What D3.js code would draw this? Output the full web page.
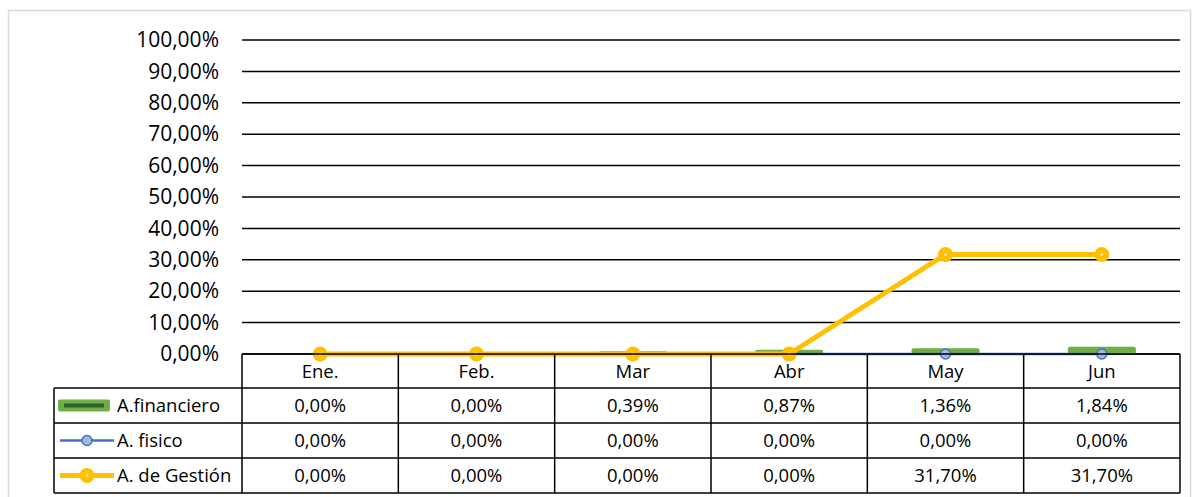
<!DOCTYPE html>
<html>
<head>
<meta charset="utf-8">
<script src="https://cdn.jsdelivr.net/npm/d3@7"></script>
<style>
  body { margin: 0; background: #fff; }
  svg text { font-family: "Open Sans", Lato, sans-serif; fill: #000; }
</style>
</head>
<body>
<svg id="chart" width="1193" height="497"></svg>
<script>
// Données du graphique
const months = ["Ene.", "Feb.", "Mar", "Abr", "May", "Jun"];
const financiero = [0.00, 0.00, 0.39, 0.87, 1.36, 1.84];
const fisico = [0.00, 0.00, 0.00, 0.00, 0.00, 0.00];
const gestion = [0.00, 0.00, 0.00, 0.00, 31.70, 31.70];
const yTicks = [0, 10, 20, 30, 40, 50, 60, 70, 80, 90, 100];

const seriesNames = ["A.financiero", "A. fisico", "A. de Gestión"];
const seriesValues = [financiero, fisico, gestion];

const green = "#70AD47", blue = "#4472C4", yellow = "#FFC000";

const svg = d3.select("#chart");

// Cadre extérieur
svg.append("rect")
    .attr("x", 8.5).attr("y", 10.5)
    .attr("width", 1182).attr("height", 495)
    .attr("fill", "none").attr("stroke", "#d9d9d9").attr("stroke-width", 1.5);

// Échelles
const x = d3.scaleBand().domain(months).range([242, 1180]);
const y = d3.scaleLinear().domain([0, 100]).range([354, 40]);

const fmt = v => v.toFixed(2).replace(".", ",") + "%";

// Lignes de grille
svg.append("g")
    .selectAll("line")
    .data(yTicks)
    .enter()
    .append("line")
    .attr("x1", 242).attr("x2", 1180)
    .attr("y1", d => y(d)).attr("y2", d => y(d))
    .attr("stroke", "#000").attr("stroke-width", 1.5);

// Axe Y
const yAxis = svg.append("g")
    .attr("transform", "translate(219,0)")
    .call(d3.axisLeft(y).tickValues(yTicks).tickSize(0).tickPadding(0).tickFormat(fmt));
yAxis.select(".domain").remove();
yAxis.selectAll("text")
    .style("font-size", "21px")
    .style("font-family", "'Open Sans', Lato, sans-serif");

// Barres A.financiero
svg.append("g")
    .selectAll("rect")
    .data(financiero)
    .enter()
    .append("rect")
    .attr("x", (d, i) => x(months[i]) + x.bandwidth() / 2 - 34)
    .attr("width", 68)
    .attr("y", d => y(d) - 1.5)
    .attr("height", d => y(0) - y(d) + 1.5)
    .attr("rx", 2)
    .attr("fill", d => d > 0 ? green : "none");

// Lignes
const line = d3.line()
    .x((d, i) => x(months[i]) + x.bandwidth() / 2)
    .y(d => y(d));

svg.append("path")
    .datum(fisico)
    .attr("d", line)
    .attr("fill", "none").attr("stroke", blue).attr("stroke-width", 2.5);

svg.append("g")
    .selectAll("circle")
    .data(fisico)
    .enter()
    .append("circle")
    .attr("cx", (d, i) => x(months[i]) + x.bandwidth() / 2)
    .attr("cy", d => y(d))
    .attr("r", 5)
    .attr("fill", "#A5B6E0").attr("stroke", blue).attr("stroke-width", 1.5);

svg.append("path")
    .datum(gestion)
    .attr("d", line)
    .attr("fill", "none").attr("stroke", yellow).attr("stroke-width", 5)
    .attr("stroke-linejoin", "round");

svg.append("g")
    .selectAll("circle")
    .data(gestion)
    .enter()
    .append("circle")
    .attr("cx", (d, i) => x(months[i]) + x.bandwidth() / 2)
    .attr("cy", d => y(d))
    .attr("r", 7.5)
    .attr("fill", yellow);

svg.append("g")
    .selectAll("circle")
    .data(gestion)
    .enter()
    .append("circle")
    .attr("cx", (d, i) => x(months[i]) + x.bandwidth() / 2)
    .attr("cy", d => y(d))
    .attr("r", 1.5)
    .attr("fill", "#FFE9A8");

// Tableau de données
const rowTop = [354, 388, 423, 458, 493];
const table = svg.append("g");

// Lignes horizontales
rowTop.forEach((ry, i) => {
    table.append("line")
        .attr("x1", i === 0 ? 242 : 54).attr("x2", 1180)
        .attr("y1", ry).attr("y2", ry)
        .attr("stroke", "#000").attr("stroke-width", 1.5);
});

// Lignes verticales
const colEdges = months.map(m => x(m)).concat([1180]);
colEdges.forEach(cx => {
    table.append("line")
        .attr("x1", cx).attr("x2", cx)
        .attr("y1", 354).attr("y2", 493)
        .attr("stroke", "#000").attr("stroke-width", 1.5);
});
table.append("line")
    .attr("x1", 54).attr("x2", 54)
    .attr("y1", 388).attr("y2", 493)
    .attr("stroke", "#000").attr("stroke-width", 1.5);

// En-têtes des mois
table.selectAll(".month")
    .data(months)
    .enter()
    .append("text")
    .attr("x", d => x(d) + x.bandwidth() / 2)
    .attr("y", 372)
    .attr("dy", "0.35em")
    .attr("text-anchor", "middle")
    .style("font-size", "18.5px")
    .text(d => d);

// Valeurs
seriesValues.forEach((vals, r) => {
    const cy = (rowTop[r + 1] + rowTop[r + 2]) / 2;
    table.selectAll(".val" + r)
        .data(vals)
        .enter()
        .append("text")
        .attr("x", (d, i) => x(months[i]) + x.bandwidth() / 2)
        .attr("y", cy)
        .attr("dy", "0.35em")
        .attr("text-anchor", "middle")
        .style("font-size", "18.5px")
        .text(d => fmt(d));

    table.append("text")
        .attr("x", 117)
        .attr("y", cy)
        .attr("dy", "0.35em")
        .style("font-size", "18.5px")
        .text(seriesNames[r]);
});

// Clés de légende
const k1 = (rowTop[1] + rowTop[2]) / 2;
table.append("rect")
    .attr("x", 58).attr("y", k1 - 6).attr("width", 52).attr("height", 12)
    .attr("rx", 2).attr("fill", green);
table.append("rect")
    .attr("x", 64).attr("y", k1 - 2).attr("width", 40).attr("height", 4)
    .attr("fill", "#1f4e1f").attr("opacity", 0.8);

const k2 = (rowTop[2] + rowTop[3]) / 2;
table.append("line")
    .attr("x1", 60).attr("x2", 114).attr("y1", k2).attr("y2", k2)
    .attr("stroke", blue).attr("stroke-width", 2.5);
table.append("circle")
    .attr("cx", 87).attr("cy", k2).attr("r", 5)
    .attr("fill", "#A5B6E0").attr("stroke", blue).attr("stroke-width", 1.5);

const k3 = (rowTop[3] + rowTop[4]) / 2;
table.append("line")
    .attr("x1", 60).attr("x2", 114).attr("y1", k3).attr("y2", k3)
    .attr("stroke", yellow).attr("stroke-width", 5);
table.append("circle")
    .attr("cx", 87).attr("cy", k3).attr("r", 7.5).attr("fill", yellow);
table.append("circle")
    .attr("cx", 87).attr("cy", k3).attr("r", 1.5).attr("fill", "#FFE9A8");
</script>
</body>
</html>
